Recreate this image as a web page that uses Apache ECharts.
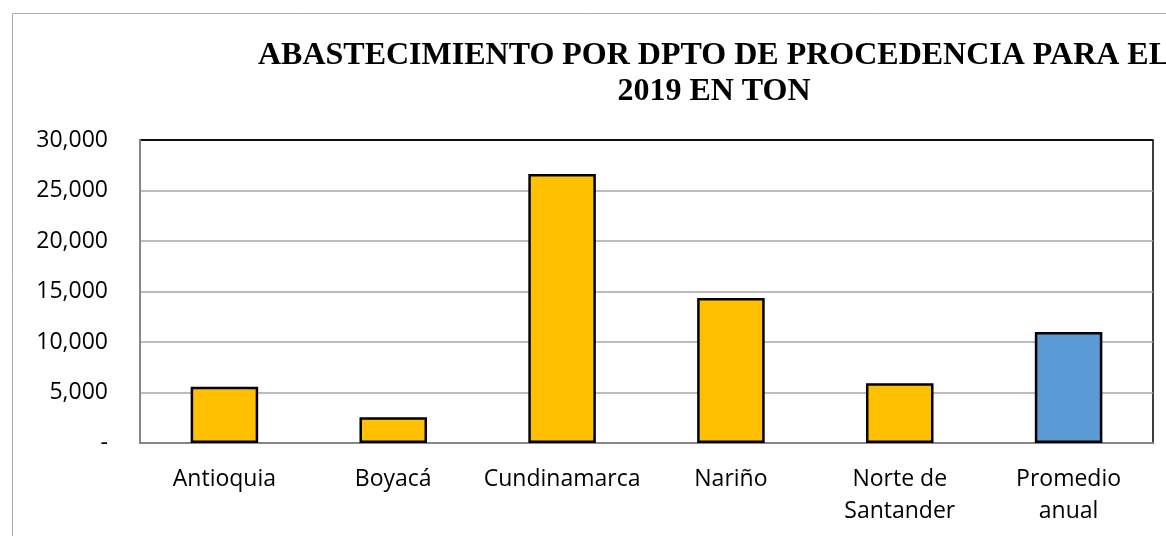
<!DOCTYPE html>
<html>
<head>
<meta charset="utf-8">
<script src="https://cdn.jsdelivr.net/npm/echarts@6/dist/echarts.min.js"></script>
<style>
  html, body { margin: 0; padding: 0; background: #fff; }
  #chart { width: 1166px; height: 536px; }
</style>
</head>
<body>
<div id="chart"></div>
<script>
  // departamentos + promedio
  const categorias = ['Antioquia', 'Boyacá', 'Cundinamarca', 'Nariño', 'Norte de\nSantander', 'Promedio\nanual']
  const toneladas = [5570, 2550, 26630, 14360, 5910, 11000]
  const colores = ['#FFC000', '#FFC000', '#FFC000', '#FFC000', '#FFC000', '#5B9BD5']
  const ticksY = [0, 5000, 10000, 15000, 20000, 25000, 30000]

  const chart = echarts.init(document.getElementById('chart'))
  chart.setOption({
    backgroundColor: '#fff',
    animation: false,
    graphic: [{
      type: 'rect',
      shape: { x: 12.5, y: 13.5, width: 1300, height: 700 },
      style: { fill: 'none', stroke: '#ABABAB', lineWidth: 1 },
      silent: true
    }],
    title: {
      text: 'ABASTECIMIENTO POR DPTO DE PROCEDENCIA PARA EL\n2019 EN TON',
      left: 709,
      top: 33,
      textAlign: 'center',
      textStyle: {
        fontFamily: 'Liberation Serif',
        fontWeight: 'bold',
        fontSize: 32,
        lineHeight: 36,
        color: '#000'
      }
    },
    grid: {
      left: 140,
      right: 13,
      top: 140,
      bottom: 93,
      show: true,
      borderColor: '#000',
      borderWidth: 1.5
    },
    xAxis: {
      type: 'category',
      data: categorias,
      axisTick: { show: false },
      axisLine: { lineStyle: { color: '#868686', width: 2 } },
      axisLabel: {
        interval: 0,
        color: '#000',
        fontFamily: 'Open Sans',
        fontSize: 23,
        lineHeight: 32,
        margin: 20
      }
    },
    yAxis: {
      type: 'value',
      min: ticksY[0],
      max: ticksY[ticksY.length - 1],
      interval: ticksY[1] - ticksY[0],
      axisTick: { show: false },
      axisLine: { show: true, lineStyle: { color: '#868686', width: 2 } },
      splitLine: {
        lineStyle: {
          color: ['#A6A6A6', '#A6A6A6', '#A6A6A6', '#A6A6A6', '#A6A6A6', '#A6A6A6', '#000'],
          width: 1.5
        }
      },
      axisLabel: {
        color: '#000',
        fontFamily: 'Open Sans',
        fontSize: 23,
        margin: 32,
        formatter: function (v) {
          return v === 0 ? '-' : v.toLocaleString('en-US')
        }
      }
    },
    series: [{
      type: 'bar',
      data: toneladas.map((v, i) => ({ value: v, itemStyle: { color: colores[i] } })),
      barWidth: '40%',
      itemStyle: {
        borderColor: '#000',
        borderWidth: 2.5
      }
    }]
  })
</script>
</body>
</html>
